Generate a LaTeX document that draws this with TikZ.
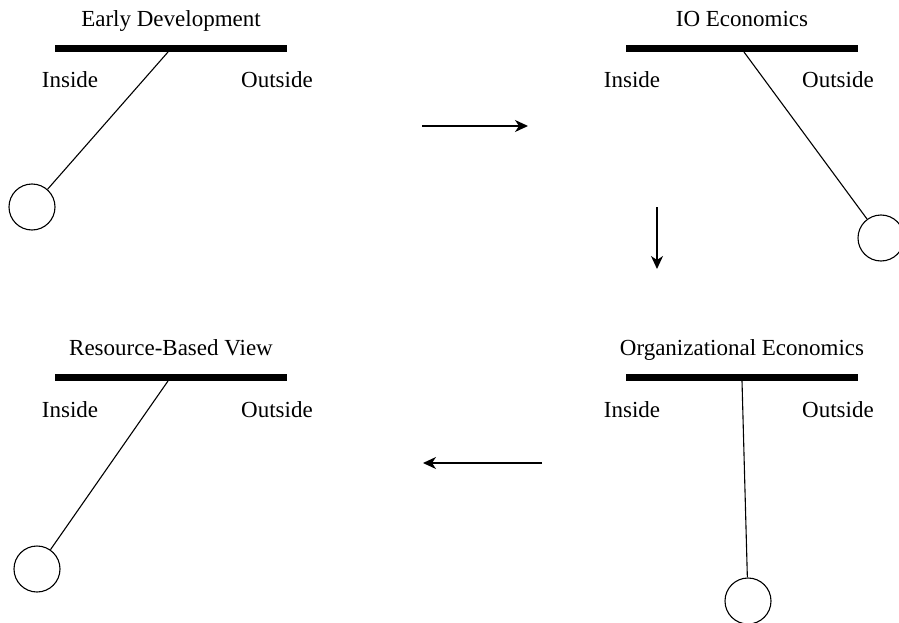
\documentclass[tikz,border=0pt]{standalone}
\usepackage{fontspec}
\setmainfont{Liberation Serif}
\usetikzlibrary{arrows.meta}
\tikzset{
  lbl/.style={anchor=base, inner sep=0pt, font=\fontsize{23}{27}\selectfont},
  bar/.style={line width=7pt},
  rod/.style={line width=1.1pt},
  bob/.style={circle, draw, line width=1.1pt, minimum size=46pt, inner sep=0pt},
  flow/.style={line width=1.3pt, -{Stealth[length=13pt, width=12pt, inset=4pt]}},
}
\begin{document}
\begin{tikzpicture}[x=1pt, y=-1pt]
\useasboundingbox (0,0) rectangle (899,623);
% Panel 1
\node[lbl] (t1) at (171,27) {Early Development};
\coordinate (b1l) at (55,48.5); \coordinate (b1r) at (287,48.5);
\draw[bar] (b1l) -- (b1r);
\node[lbl] (i1) at (70,87.5) {Inside};
\node[lbl] (o1) at (277,87.5) {Outside};
\coordinate (p1) at (168,52);
\node[bob] (c1) at (32,207) {};
\draw[rod] (p1) -- (c1);
% Panel 2
\node[lbl] (t2) at (742,27) {IO Economics};
\coordinate (b2l) at (626,48.5); \coordinate (b2r) at (858,48.5);
\draw[bar] (b2l) -- (b2r);
\node[lbl] (i2) at (632,87.5) {Inside};
\node[lbl] (o2) at (838,87.5) {Outside};
\coordinate (p2) at (744,52);
\node[bob] (c2) at (881,238) {};
\draw[rod] (p2) -- (c2);
% Panel 3
\node[lbl] (t3) at (171,355) {Resource-Based View};
\coordinate (b3l) at (55,377.5); \coordinate (b3r) at (287,377.5);
\draw[bar] (b3l) -- (b3r);
\node[lbl] (i3) at (70,417.5) {Inside};
\node[lbl] (o3) at (277,417.5) {Outside};
\coordinate (p3) at (168,381);
\node[bob] (c3) at (37,569) {};
\draw[rod] (p3) -- (c3);
% Panel 4
\node[lbl] (t4) at (742,355) {Organizational Economics};
\coordinate (b4l) at (626,377.5); \coordinate (b4r) at (858,377.5);
\draw[bar] (b4l) -- (b4r);
\node[lbl] (i4) at (632,417.5) {Inside};
\node[lbl] (o4) at (838,417.5) {Outside};
\coordinate (p4) at (742,381);
\node[bob] (c4) at (748,601) {};
\draw[rod] (p4) -- (c4);
% Arrows
\coordinate (a1s) at (422,126); \coordinate (a1e) at (528,126);
\draw[flow] (a1s) -- (a1e);
\coordinate (a2s) at (657,207); \coordinate (a2e) at (657,269);
\draw[flow] (a2s) -- (a2e);
\coordinate (a3s) at (542,463); \coordinate (a3e) at (423,463);
\draw[flow] (a3s) -- (a3e);
\end{tikzpicture}
\end{document}
